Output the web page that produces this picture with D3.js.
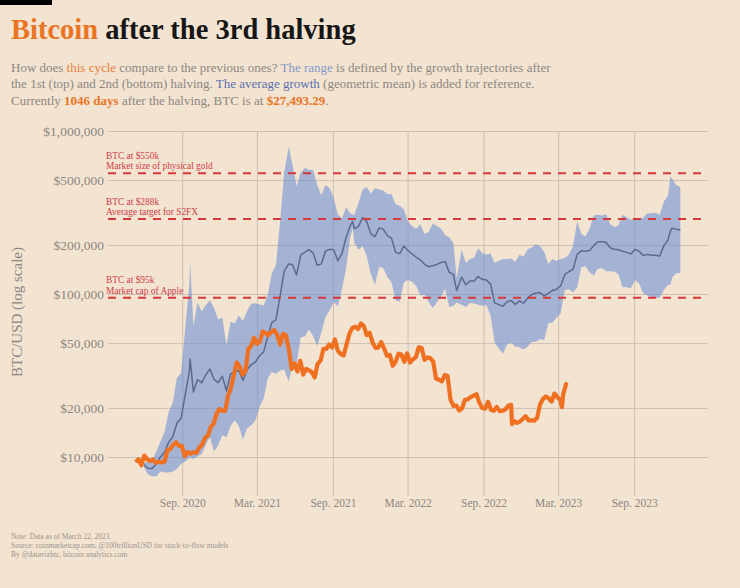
<!DOCTYPE html>
<html><head><meta charset="utf-8">
<script src="https://cdn.jsdelivr.net/npm/d3@7"></script>
<style>
html,body{margin:0;padding:0;background:#f3e3d1;}
svg text{font-family:"Liberation Serif","DejaVu Serif",serif;}
</style></head><body>
<svg id="chart" width="740" height="588"></svg>
<script>
// ---------- DATA ----------
const halvingDate = "2020-05-11";
const currentDays = 1046;
const currentPrice = "$27,493.29";

const yTickValues = [10000, 20000, 50000, 100000, 200000, 500000, 1000000];
const xTickDates = ["2020-09-01","2021-03-01","2021-09-01","2022-03-01","2022-09-01","2023-03-01","2023-09-01"];
const xTickLabels = ["Sep. 2020","Mar. 2021","Sep. 2021","Mar. 2022","Sep. 2022","Mar. 2023","Sep. 2023"];

const levelValues = [550000, 288000, 95000];
const levelTitles = ["BTC at $550k", "BTC at $288k", "BTC at $95k"];
const levelNotes = ["Market size of physical gold", "Average target for S2FX", "Market cap of Apple"];

// days after halving for the range band and average
const bandDays = [20,30,40,50,60,70,80,90,100,110,120,130,132,140,150,160,170,180,190,200,210,220,230,240,250,260,270,280,290,300,310,320,330,340,350,360,371,380,390,400,410,420,430,440,450,460,470,480,490,500,510,520,526,530,540,550,560,570,580,590,600,610,620,630,640,650,660,670,680,690,700,710,720,730,740,750,760,770,778,790,800,810,820,830,840,850,860,870,880,890,900,910,920,930,940,950,960,970,980,990,1000,1010,1020,1030,1040,1050,1060,1070,1080,1090,1100,1110,1120,1130,1140,1150,1160,1170,1180,1190,1200,1210,1220,1230,1240,1250,1260,1270,1280,1290,1296,1300,1310,1320];
// growth trajectory after 1st halving (top)
const firstHalving = [9260,9330,9470,10800,12400,14300,18800,21600,30600,32700,61200,113000,160000,64000,89100,78000,85600,91200,82100,69600,71700,48700,67500,66100,73800,68200,78600,87000,87700,86300,84900,98100,134000,150000,278000,557000,800000,626000,459000,557000,592000,578000,578000,466000,404000,466000,445000,390000,306000,292000,341000,313000,306000,306000,362000,438000,452000,414000,445000,438000,432000,411000,411000,355000,348000,331000,278000,261000,251000,268000,233000,240000,271000,261000,251000,230000,223000,205000,125000,188000,155000,164000,166000,191000,178000,175000,177000,155000,160000,164000,164000,165000,157000,174000,169000,188000,193000,202000,196000,181000,153000,164000,160000,164000,166000,175000,197000,278000,233000,225000,251000,303000,306000,303000,310000,268000,258000,264000,306000,296000,285000,289000,289000,294000,313000,313000,315000,306000,369000,400000,529000,508000,466000,452000];
// growth trajectory after 2nd halving (bottom)
const secondHalving = [8670,7810,7610,7580,8140,8020,8020,8160,8440,9100,9390,9860,9920,9720,10100,10400,11900,13200,10800,11800,13600,13200,15500,16800,15500,12800,15000,15600,16700,20200,22800,30400,33300,32400,33900,34400,29100,36400,37000,54200,54900,60600,55200,48000,58200,72100,79400,89300,84000,107000,144000,221000,253000,206000,187000,197000,171000,132000,114000,147000,144000,127000,118000,91300,90000,118000,122000,119000,112000,97900,99200,89300,82000,88600,96600,108000,83300,84700,88600,86000,83300,88000,87300,86000,84700,85300,74100,50300,46300,43000,49000,50300,47600,47200,45600,47600,50900,50900,52900,52300,66200,66800,71400,76100,106000,107000,102000,110000,146000,148000,136000,130000,143000,144000,138000,138000,137000,132000,110000,110000,108000,122000,116000,101000,97900,95300,94600,95300,106000,114000,114000,126000,134000,135000];
// average growth (geometric mean)
const averageGrowth = [8960,8530,8490,9050,10000,10700,12300,13300,16100,17300,24000,33400,39900,25000,29900,28500,31900,34700,29900,28600,31300,25400,32300,33300,33800,29500,34300,36900,38200,41800,44000,54700,66800,69700,97100,138000,153000,151000,131000,174000,180000,187000,179000,150000,153000,183000,188000,187000,160000,177000,222000,263000,278000,252000,260000,294000,278000,234000,225000,254000,250000,228000,220000,180000,177000,197000,185000,176000,168000,162000,152000,147000,149000,152000,156000,158000,136000,132000,105000,127000,114000,120000,120000,128000,123000,122000,115000,88200,86100,84100,89700,91100,86400,90700,87900,94600,99300,101400,102000,97300,101000,105000,107000,112000,132000,137000,142000,175000,184000,183000,185000,198000,209000,209000,207000,192000,188000,187000,183000,180000,176000,188000,183000,172000,175000,173000,173000,171000,198000,214000,245000,253000,250000,247000];

// this cycle (BTC after the 3rd halving)
const btcDays = [0,7,14,21,28,35,42,49,56,63,70,77,84,91,98,105,112,119,126,133,140,147,154,161,168,175,182,189,196,203,210,217,224,231,238,245,252,259,266,273,280,287,294,301,308,315,322,329,336,343,350,357,364,371,378,385,392,399,406,413,420,427,434,441,448,455,462,469,476,483,490,497,504,511,518,525,532,539,546,553,560,567,574,581,588,595,602,609,616,623,630,637,644,651,658,665,672,679,686,693,700,707,714,721,728,735,742,749,756,763,770,777,784,791,798,805,812,819,826,833,840,847,854,861,868,875,882,889,896,903,910,912,917,924,931,938,945,952,959,966,973,980,987,994,1001,1008,1015,1022,1029,1033,1036,1043,1046];
const btcPrice = [9300,9700,8900,10200,9700,9450,9650,9200,9350,9250,9380,11000,11200,11850,12300,11700,11700,10100,10700,10500,10700,10600,11400,11900,13100,13500,15300,16000,18400,19700,19200,19200,23800,26500,32000,38000,36000,32000,33500,46000,48000,54000,49500,51000,59000,57500,55800,58700,60000,56000,49000,57000,55800,46400,34700,37500,33500,39000,32000,34700,34000,33100,30800,37300,39000,46000,46000,49000,47000,52600,44900,42800,42000,49000,57000,62000,63000,61000,66000,63500,56000,57800,50600,46700,46900,50700,46400,41800,42300,36300,38400,43000,42500,38400,43200,38000,39700,41000,47100,46600,39500,40800,40400,38500,30300,29800,29100,31800,31400,22500,20600,20700,19300,19900,22400,22600,23300,23800,24300,21500,20000,19800,21800,19500,19200,20300,19100,19200,19600,20600,20900,15900,16600,16200,16500,17100,17800,16800,16800,16700,17400,21000,22700,23500,22900,21900,24500,23300,22400,20200,24200,28000,27493.29];

const footNotes = ["Note: Data as of March 22, 2023.", "Source: coinmarketcap.com, @100trillionUSD for stock-to-flow models", "By @datavizbtc, bitcoin analytics.com"];

// ---------- DRAW ----------
const svg = d3.select("#chart");
const W = 740, H = 588;
const bg = "#f3e3d1", grey = "#8c8781", grid = "#cbc0b3";
svg.append("rect").attr("width", W).attr("height", H).attr("fill", bg);
svg.append("rect").attr("x", 0).attr("y", 0).attr("width", 52).attr("height", 5).attr("fill", "#000");

const h0 = d3.timeParse("%Y-%m-%d")(halvingDate);
const dayDate = d => d3.timeDay.offset(h0, d);
const x = d3.scaleTime().domain([dayDate(-67), dayDate(1387)]).range([108, 708]);
const y = d3.scaleLog().domain([10000, 1000000]).range([457, 131]);

// title
const title = svg.append("text").attr("x", 11).attr("y", 39)
  .attr("font-size", 28.5).attr("font-weight", "bold").attr("fill", "#161616");
title.append("tspan").attr("fill", "#ea7424").text("Bitcoin");
title.append("tspan").text(" after the 3rd halving");

// subtitle
const subLines = [
  [["How does ", grey], ["this cycle", "#e8813a"], [" compare to the previous ones? ", grey], ["The range", "#8598c8"], [" is defined by the growth trajectories after", grey]],
  [["the 1st (top) and 2nd (bottom) halving. ", grey], ["The average growth", "#5b70ad"], [" (geometric mean) is added for reference.", grey]],
  [["Currently ", grey], [currentDays + " days", "#ea7424", true], [" after the halving, BTC is at ", grey], [currentPrice, "#ea7424", true], [".", grey]]
];
subLines.forEach((parts, i) => {
  const t = svg.append("text").attr("x", 11).attr("y", 72 + i * 16.3).attr("font-size", 13);
  parts.forEach(p => t.append("tspan").attr("fill", p[1]).attr("font-weight", p[2] ? "bold" : null).text(p[0]));
});

// y axis with gridlines
const yAxis = svg.append("g").attr("transform", "translate(108,0)")
  .call(d3.axisLeft(y).tickValues(yTickValues).tickFormat(v => "$" + d3.format(",")(v)).tickSize(-600).tickPadding(4));
yAxis.select(".domain").remove();
yAxis.selectAll(".tick line").attr("stroke", grid).attr("stroke-width", 1);
yAxis.selectAll(".tick text").attr("fill", grey).attr("font-size", 13.5).attr("font-family", "Liberation Serif, serif");

// x axis with gridlines
const xParse = d3.timeParse("%Y-%m-%d");
const xAxis = svg.append("g").attr("transform", "translate(0,496)")
  .call(d3.axisBottom(x).tickValues(xTickDates.map(xParse)).tickFormat((d, i) => xTickLabels[i]).tickSize(-365).tickPadding(3));
xAxis.select(".domain").remove();
xAxis.selectAll(".tick line").attr("stroke", grid).attr("stroke-width", 1);
xAxis.selectAll(".tick text").attr("fill", grey).attr("font-size", 11.5).attr("font-family", "Liberation Serif, serif");

// y title
svg.append("text").attr("transform", "translate(22,312) rotate(-90)").attr("text-anchor", "middle")
  .attr("font-size", 15).attr("fill", grey).text("BTC/USD (log scale)");

// band
const bandData = bandDays.map((d, i) => ({d, hi: firstHalving[i], lo: secondHalving[i], avg: averageGrowth[i]}));
svg.append("path").datum(bandData)
  .attr("d", d3.area().x(p => x(dayDate(p.d))).y0(p => y(p.lo)).y1(p => y(p.hi)))
  .attr("fill", "#6a8fd6").attr("fill-opacity", 0.58);
svg.append("path").datum(bandData)
  .attr("d", d3.line().x(p => x(dayDate(p.d))).y(p => y(p.avg)))
  .attr("fill", "none").attr("stroke", "#5a6b8e").attr("stroke-width", 1.5).attr("stroke-linejoin", "round");

// this cycle
const btcData = btcDays.map((d, i) => ({d, v: btcPrice[i]}));
svg.append("path").datum(btcData)
  .attr("d", d3.line().x(p => x(dayDate(p.d))).y(p => y(p.v)))
  .attr("fill", "none").attr("stroke", "#f07021").attr("stroke-width", 4.2).attr("stroke-linejoin", "round");

// reference levels
levelValues.forEach((v, i) => {
  const yy = y(v);
  svg.append("line").attr("x1", 108).attr("x2", 708).attr("y1", yy).attr("y2", yy)
    .attr("stroke", "#d8383b").attr("stroke-width", 2).attr("stroke-dasharray", "8,7");
  svg.append("text").attr("x", 106).attr("y", yy - 14.5).attr("font-size", 9.4).attr("fill", "#cf4048").text(levelTitles[i]);
  svg.append("text").attr("x", 106).attr("y", yy - 4).attr("font-size", 9.4).attr("fill", "#cf4048").text(levelNotes[i]);
});

// footer
footNotes.forEach((s, i) => svg.append("text").attr("x", 11).attr("y", 539 + i * 9).attr("font-size", 7.5).attr("fill", "#9a948d").text(s));
</script>
</body></html>
